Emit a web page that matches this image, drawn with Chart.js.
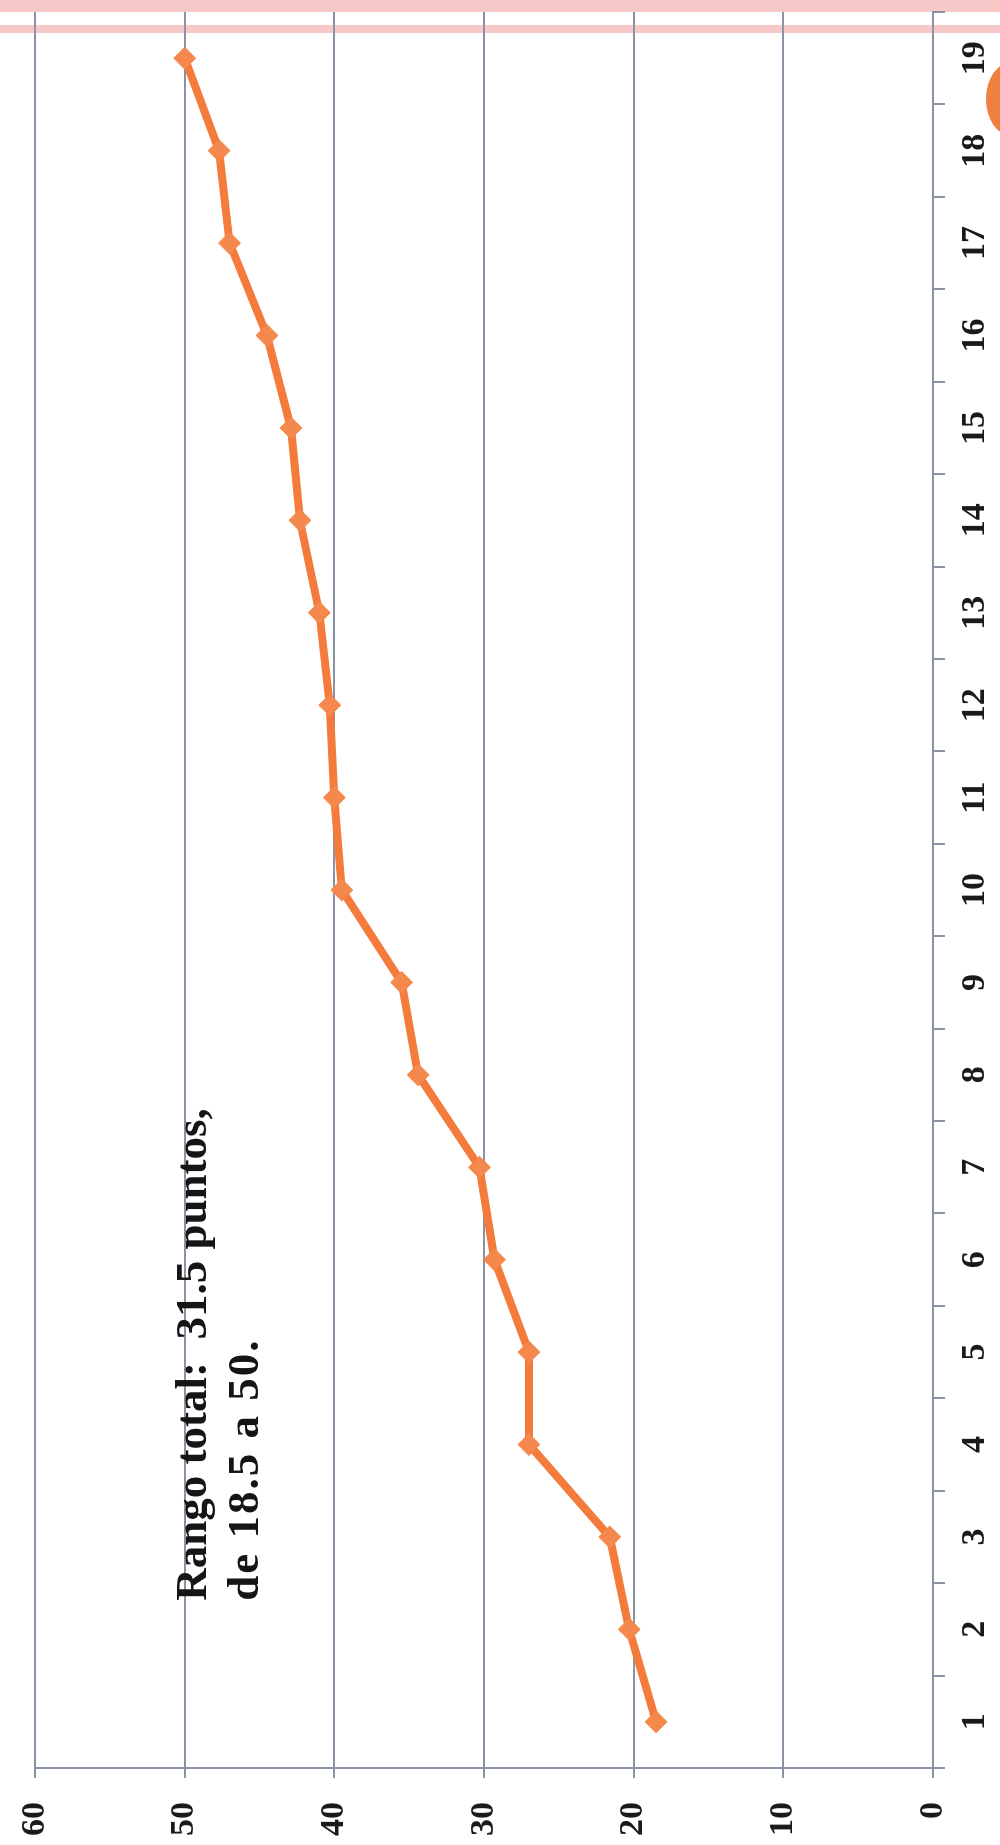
<!DOCTYPE html>
<html><head><meta charset="utf-8">
<script src="https://cdn.jsdelivr.net/npm/chart.js@4.4.1/dist/chart.umd.min.js"></script>
<style>
html,body{margin:0;padding:0;background:#fff;width:1000px;height:1845px;overflow:hidden;position:relative}
.band{position:absolute;left:0;width:1000px;background:#f7c8c8;}
#blob{position:absolute;left:986px;top:62px;width:52px;height:74px;border-radius:50%;background:#f0803f}
#wrap{position:absolute;left:0;top:0;width:1845px;height:1000px;transform-origin:0 0;transform:translateY(1845px) rotate(-90deg);}
</style></head>
<body>
<div class="band" style="top:0;height:12px"></div>
<div class="band" style="top:25px;height:8px"></div>
<div id="wrap"><canvas id="c"></canvas></div>
<div id="blob"></div>
<script>
const categories = ['1','2','3','4','5','6','7','8','9','10','11','12','13','14','15','16','17','18','19'];
const scores = [18.5, 20.3, 21.6, 27.0, 27.0, 29.3, 30.3, 34.4, 35.5, 39.5, 40.0, 40.3, 41.0, 42.3, 42.9, 44.5, 47.0, 47.7, 50.0];
const valueTicks = [0, 10, 20, 30, 40, 50, 60];
const annotationLines = ['Rango total:  31.5 puntos,', 'de 18.5 a 50.'];
const annotationAnchor = {category: 1.31, value: 48.6, lineGap: 52};

const gridColor = '#8a92a5';
const tickFont = {family: "'Liberation Serif', serif", weight: 'bold', size: 34};

const annotationPlugin = {
  id: 'rangeNote',
  afterDatasetsDraw(chart) {
    const {ctx, scales: {x, y}} = chart;
    ctx.save();
    ctx.fillStyle = '#151515';
    ctx.textBaseline = 'alphabetic';
    ctx.textAlign = 'left';
    const px = x.getPixelForValue(annotationAnchor.category);
    const py = y.getPixelForValue(annotationAnchor.value);
    annotationLines.forEach((t, i) => {
      ctx.font = "bold 45px 'Liberation Serif', serif";
      if (i === 1) { try { ctx.letterSpacing = '2px'; } catch (e) {} }
      ctx.fillText(t, px, py + i * annotationAnchor.lineGap);
    });
    ctx.restore();
  }
};

new Chart(document.getElementById('c'), {
  type: 'line',
  data: {
    labels: categories,
    datasets: [{
      data: scores,
      borderColor: '#f47b3c',
      backgroundColor: '#f5884c',
      borderWidth: 8,
      tension: 0,
      pointStyle: 'rectRot',
      pointRadius: 11,
      pointBorderWidth: 1,
      pointBorderColor: '#f5884c',
      pointBackgroundColor: '#f5884c'
    }]
  },
  options: {
    responsive: true,
    maintainAspectRatio: false,
    animation: false,
    events: [],
    layout: {padding: {top: 35, right: 3, bottom: 0, left: 0}},
    plugins: {legend: {display: false}, tooltip: {enabled: false}},
    scales: {
      x: {
        type: 'category',
        offset: true,
        grid: {offset: true, drawOnChartArea: false, drawTicks: true, tickLength: 12, color: gridColor, lineWidth: 2},
        border: {display: true, color: gridColor, width: 2},
        ticks: {font: tickFont, color: '#1a1a1a', padding: 10, maxRotation: 0, autoSkip: false},
        afterFit(s) { s.height = 67; s.paddingRight = 0; }
      },
      y: {
        min: valueTicks[0],
        max: valueTicks[valueTicks.length - 1],
        afterBuildTicks(s) { s.ticks = valueTicks.map(v => ({value: v})); },
        grid: {color: gridColor, lineWidth: 2, tickLength: 10},
        border: {display: true, color: gridColor, width: 2},
        ticks: {font: tickFont, color: '#1a1a1a', padding: 24},
        afterFit(s) { s.width = 77; s.paddingTop = 0; s.paddingBottom = 0; }
      }
    }
  },
  plugins: [annotationPlugin]
});
</script>
</body></html>
